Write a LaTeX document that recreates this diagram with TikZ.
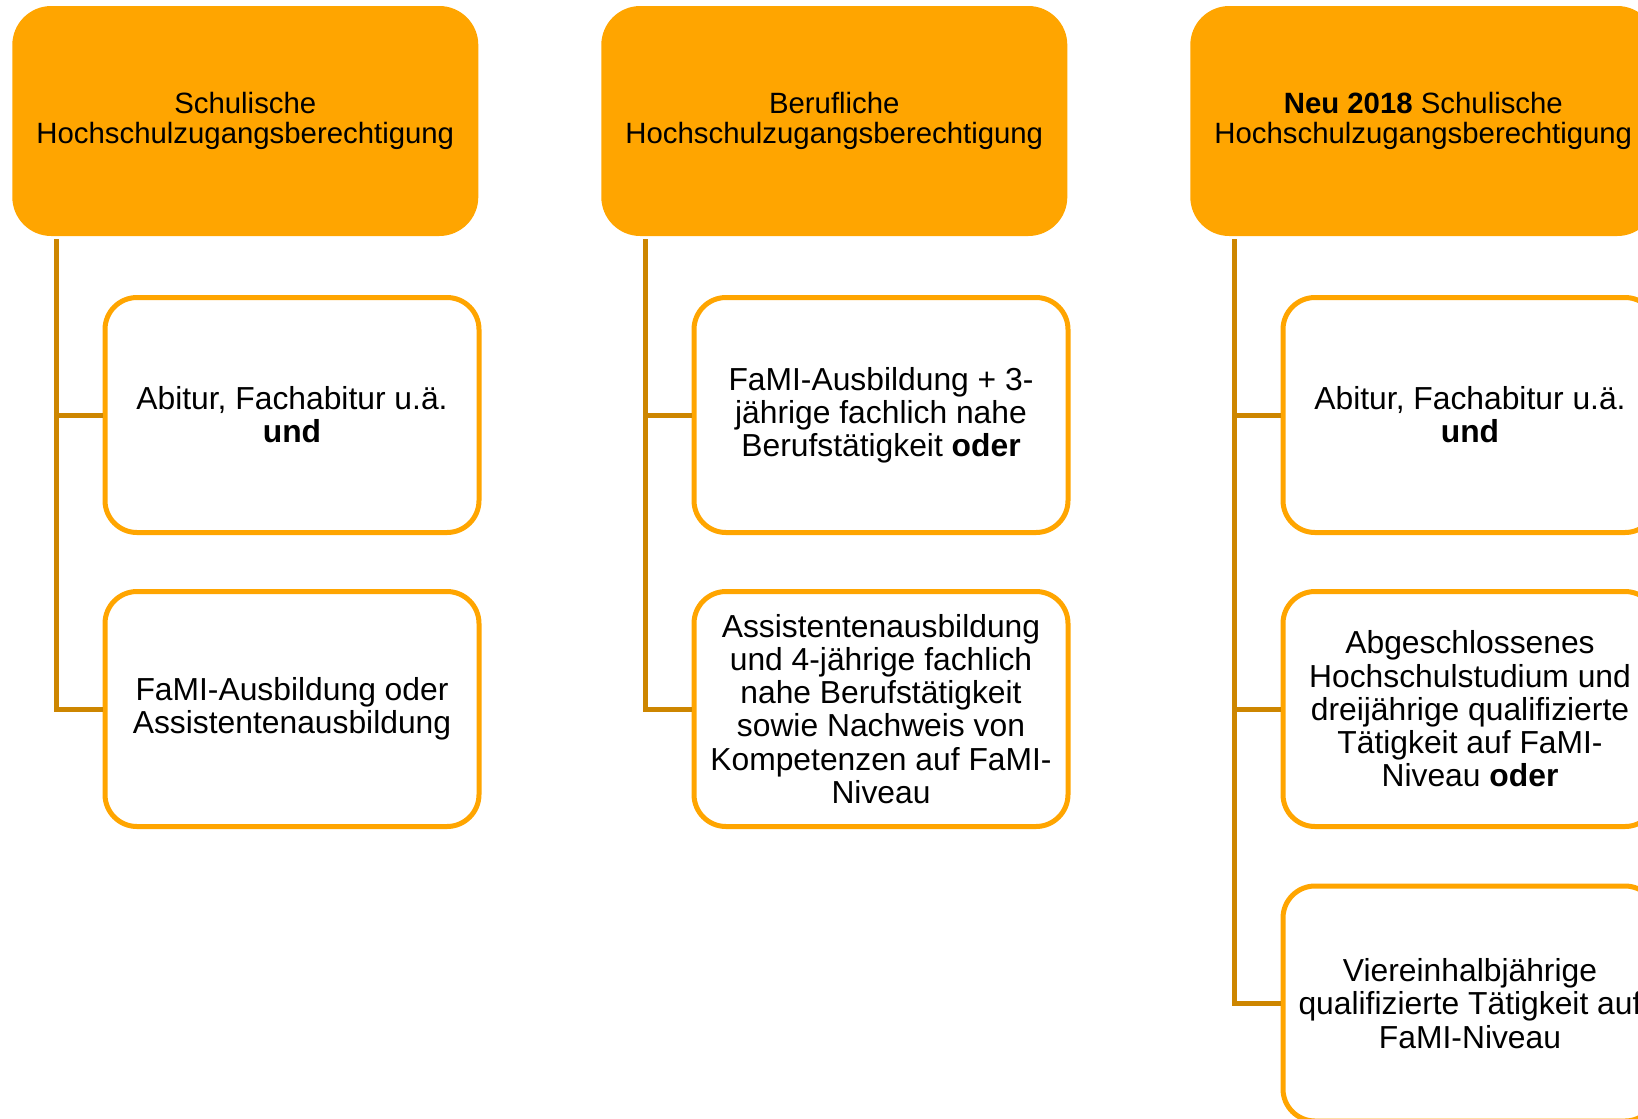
\documentclass[tikz,border=0pt]{standalone}
\usepackage{fontspec}
\setmainfont{Liberation Sans}
\definecolor{famiorange}{RGB}{255,165,0}
\definecolor{famibrown}{RGB}{205,134,0}
\begin{document}
\begin{tikzpicture}[
        hdr/.style={fill=famiorange, rounded corners=0.78cm, minimum width=9.32cm, minimum height=4.6cm, align=center, font=\fontsize{16.7}{17.3}\selectfont},
        req/.style={draw=famiorange, line width=0.1cm, fill=white, rounded corners=0.64cm, minimum width=7.48cm, minimum height=4.7cm, align=center, font=\fontsize{18.1}{18.9}\selectfont},
        branch/.style={draw=famibrown, line width=0.1cm}]
        \useasboundingbox (0,0) rectangle (32.76,-22.36);
        % headers
        \node[hdr] (h1) at (4.906,-2.42) {Schulische\\Hochschulzugangsberechtigung};
        \node[hdr] (h2) at (16.686,-2.42) {Berufliche\\Hochschulzugangsberechtigung};
        \node[hdr] (h3) at (28.466,-2.42) {\textbf{Neu 2018} Schulische\\Hochschulzugangsberechtigung};
        % requirements
        \node[req] (c11) at (5.84,-8.30) {Abitur, Fachabitur u.ä.\\\textbf{und}};
        \node[req] (c12) at (5.84,-14.18) {FaMI-Ausbildung oder\\Assistentenausbildung};
        \node[req] (c21) at (17.62,-8.30) {FaMI-Ausbildung + 3-\\jährige fachlich nahe\\Berufstätigkeit \textbf{oder}};
        \node[req] (c22) at (17.62,-14.18) {Assistentenausbildung\\und 4-jährige fachlich\\nahe Berufstätigkeit\\sowie Nachweis von\\Kompetenzen auf FaMI-\\Niveau};
        \node[req] (c31) at (29.40,-8.30) {Abitur, Fachabitur u.ä.\\\textbf{und}};
        \node[req] (c32) at (29.40,-14.18) {Abgeschlossenes\\Hochschulstudium und\\dreijährige qualifizierte\\Tätigkeit auf FaMI-\\Niveau \textbf{oder}};
        \node[req] (c33) at (29.40,-20.07) {Viereinhalbjährige\\qualifizierte Tätigkeit auf\\FaMI-Niveau};
        % tree lines
        \coordinate (t1) at ([xshift=0.9cm,yshift=-0.06cm]h1.south west);
        \coordinate (t2) at ([xshift=0.9cm,yshift=-0.06cm]h2.south west);
        \coordinate (t3) at ([xshift=0.9cm,yshift=-0.06cm]h3.south west);
        \draw[branch] (t1) |- (c12.west);
        \draw[branch] (t1) |- (c11.west);
        \draw[branch] (t2) |- (c22.west);
        \draw[branch] (t2) |- (c21.west);
        \draw[branch] (t3) |- (c33.west);
        \draw[branch] (t3) |- (c32.west);
        \draw[branch] (t3) |- (c31.west);
    \end{tikzpicture}
\end{document}
